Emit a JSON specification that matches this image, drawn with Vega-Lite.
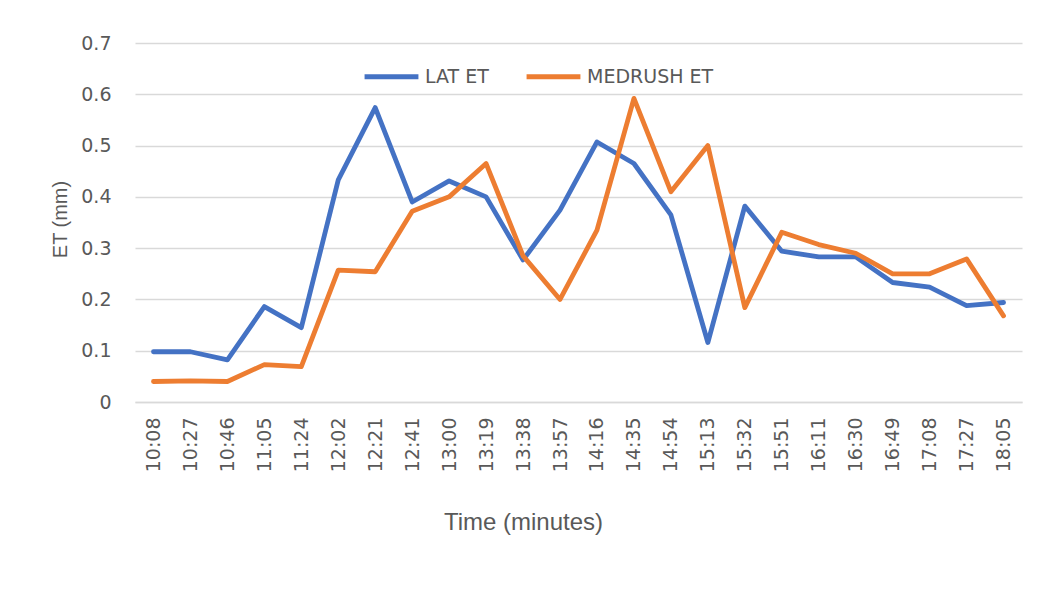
{
  "$schema": "https://vega.github.io/schema/vega-lite/v6.json",
  "autosize": {"type": "none"},
  "padding": {"left": 135, "top": 43, "right": 18, "bottom": 197},
  "width": 887,
  "height": 359,
  "background": "white",
  "config": {
    "view": {"stroke": null},
    "font": "DejaVu Sans"
  },
  "data": {
    "values": [
      {"time": "10:08", "series": "LAT ET", "et": 0.098},
      {"time": "10:27", "series": "LAT ET", "et": 0.098},
      {"time": "10:46", "series": "LAT ET", "et": 0.082},
      {"time": "11:05", "series": "LAT ET", "et": 0.186},
      {"time": "11:24", "series": "LAT ET", "et": 0.145},
      {"time": "12:02", "series": "LAT ET", "et": 0.433},
      {"time": "12:21", "series": "LAT ET", "et": 0.574},
      {"time": "12:41", "series": "LAT ET", "et": 0.390},
      {"time": "13:00", "series": "LAT ET", "et": 0.431},
      {"time": "13:19", "series": "LAT ET", "et": 0.400},
      {"time": "13:38", "series": "LAT ET", "et": 0.277},
      {"time": "13:57", "series": "LAT ET", "et": 0.374},
      {"time": "14:16", "series": "LAT ET", "et": 0.507},
      {"time": "14:35", "series": "LAT ET", "et": 0.465},
      {"time": "14:54", "series": "LAT ET", "et": 0.365},
      {"time": "15:13", "series": "LAT ET", "et": 0.116},
      {"time": "15:32", "series": "LAT ET", "et": 0.382},
      {"time": "15:51", "series": "LAT ET", "et": 0.294},
      {"time": "16:11", "series": "LAT ET", "et": 0.283},
      {"time": "16:30", "series": "LAT ET", "et": 0.283},
      {"time": "16:49", "series": "LAT ET", "et": 0.233},
      {"time": "17:08", "series": "LAT ET", "et": 0.224},
      {"time": "17:27", "series": "LAT ET", "et": 0.188},
      {"time": "18:05", "series": "LAT ET", "et": 0.194},
      {"time": "10:08", "series": "MEDRUSH ET", "et": 0.040},
      {"time": "10:27", "series": "MEDRUSH ET", "et": 0.041},
      {"time": "10:46", "series": "MEDRUSH ET", "et": 0.040},
      {"time": "11:05", "series": "MEDRUSH ET", "et": 0.073},
      {"time": "11:24", "series": "MEDRUSH ET", "et": 0.069},
      {"time": "12:02", "series": "MEDRUSH ET", "et": 0.257},
      {"time": "12:21", "series": "MEDRUSH ET", "et": 0.254},
      {"time": "12:41", "series": "MEDRUSH ET", "et": 0.372},
      {"time": "13:00", "series": "MEDRUSH ET", "et": 0.400},
      {"time": "13:19", "series": "MEDRUSH ET", "et": 0.465},
      {"time": "13:38", "series": "MEDRUSH ET", "et": 0.285},
      {"time": "13:57", "series": "MEDRUSH ET", "et": 0.200},
      {"time": "14:16", "series": "MEDRUSH ET", "et": 0.335},
      {"time": "14:35", "series": "MEDRUSH ET", "et": 0.592},
      {"time": "14:54", "series": "MEDRUSH ET", "et": 0.410},
      {"time": "15:13", "series": "MEDRUSH ET", "et": 0.500},
      {"time": "15:32", "series": "MEDRUSH ET", "et": 0.184},
      {"time": "15:51", "series": "MEDRUSH ET", "et": 0.331},
      {"time": "16:11", "series": "MEDRUSH ET", "et": 0.307},
      {"time": "16:30", "series": "MEDRUSH ET", "et": 0.290},
      {"time": "16:49", "series": "MEDRUSH ET", "et": 0.250},
      {"time": "17:08", "series": "MEDRUSH ET", "et": 0.250},
      {"time": "17:27", "series": "MEDRUSH ET", "et": 0.279},
      {"time": "18:05", "series": "MEDRUSH ET", "et": 0.168}
    ]
  },
  "mark": {"type": "line", "strokeWidth": 4.8, "strokeCap": "round", "strokeJoin": "round"},
  "encoding": {
    "x": {
      "field": "time",
      "type": "ordinal",
      "sort": null,
      "scale": {"type": "point", "padding": 0.5},
      "axis": {
        "title": "Time (minutes)",
        "titleFont": "Liberation Sans",
        "titleFontSize": 24,
        "titleFontWeight": "normal",
        "titleColor": "#595959",
        "titleX": 388,
        "titleY": 120,
        "titleBaseline": "middle",
        "titleAlign": "center",
        "labelAngle": 270,
        "labelAlign": "right",
        "labelBaseline": "middle",
        "labelFontSize": 19,
        "labelColor": "#595959",
        "labelPadding": 15,
        "ticks": false,
        "tickSize": 0,
        "grid": false,
        "domain": true,
        "domainColor": "#d9d9d9",
        "domainWidth": 1.5
      }
    },
    "y": {
      "field": "et",
      "type": "quantitative",
      "scale": {"domain": [0, 0.7], "nice": false},
      "axis": {
        "title": "ET (mm)",
        "titleFont": "Liberation Sans",
        "titleFontSize": 20,
        "titleFontWeight": "normal",
        "titleColor": "#595959",
        "titleX": -75,
        "titleY": 176,
        "titleAngle": 270,
        "titleBaseline": "middle",
        "titleAlign": "center",
        "values": [0, 0.1, 0.2, 0.3, 0.4, 0.5, 0.6, 0.7],
        "format": ".1~f",
        "labelFontSize": 19,
        "labelColor": "#595959",
        "labelPadding": 24,
        "ticks": false,
        "tickSize": 0,
        "domain": false,
        "grid": true,
        "gridColor": "#d9d9d9",
        "gridWidth": 1.5
      }
    },
    "color": {
      "field": "series",
      "type": "nominal",
      "scale": {"domain": ["LAT ET", "MEDRUSH ET"], "range": ["#4472C4", "#ED7D31"]},
      "legend": {
        "title": null,
        "orient": "none",
        "direction": "horizontal",
        "legendX": 227,
        "legendY": 4,
        "symbolType": "stroke",
        "symbolSize": 2900,
        "symbolStrokeWidth": 4.8,
        "labelFontSize": 19,
        "labelColor": "#595959",
        "labelOffset": 4,
        "columnPadding": 27
      }
    }
  }
}
